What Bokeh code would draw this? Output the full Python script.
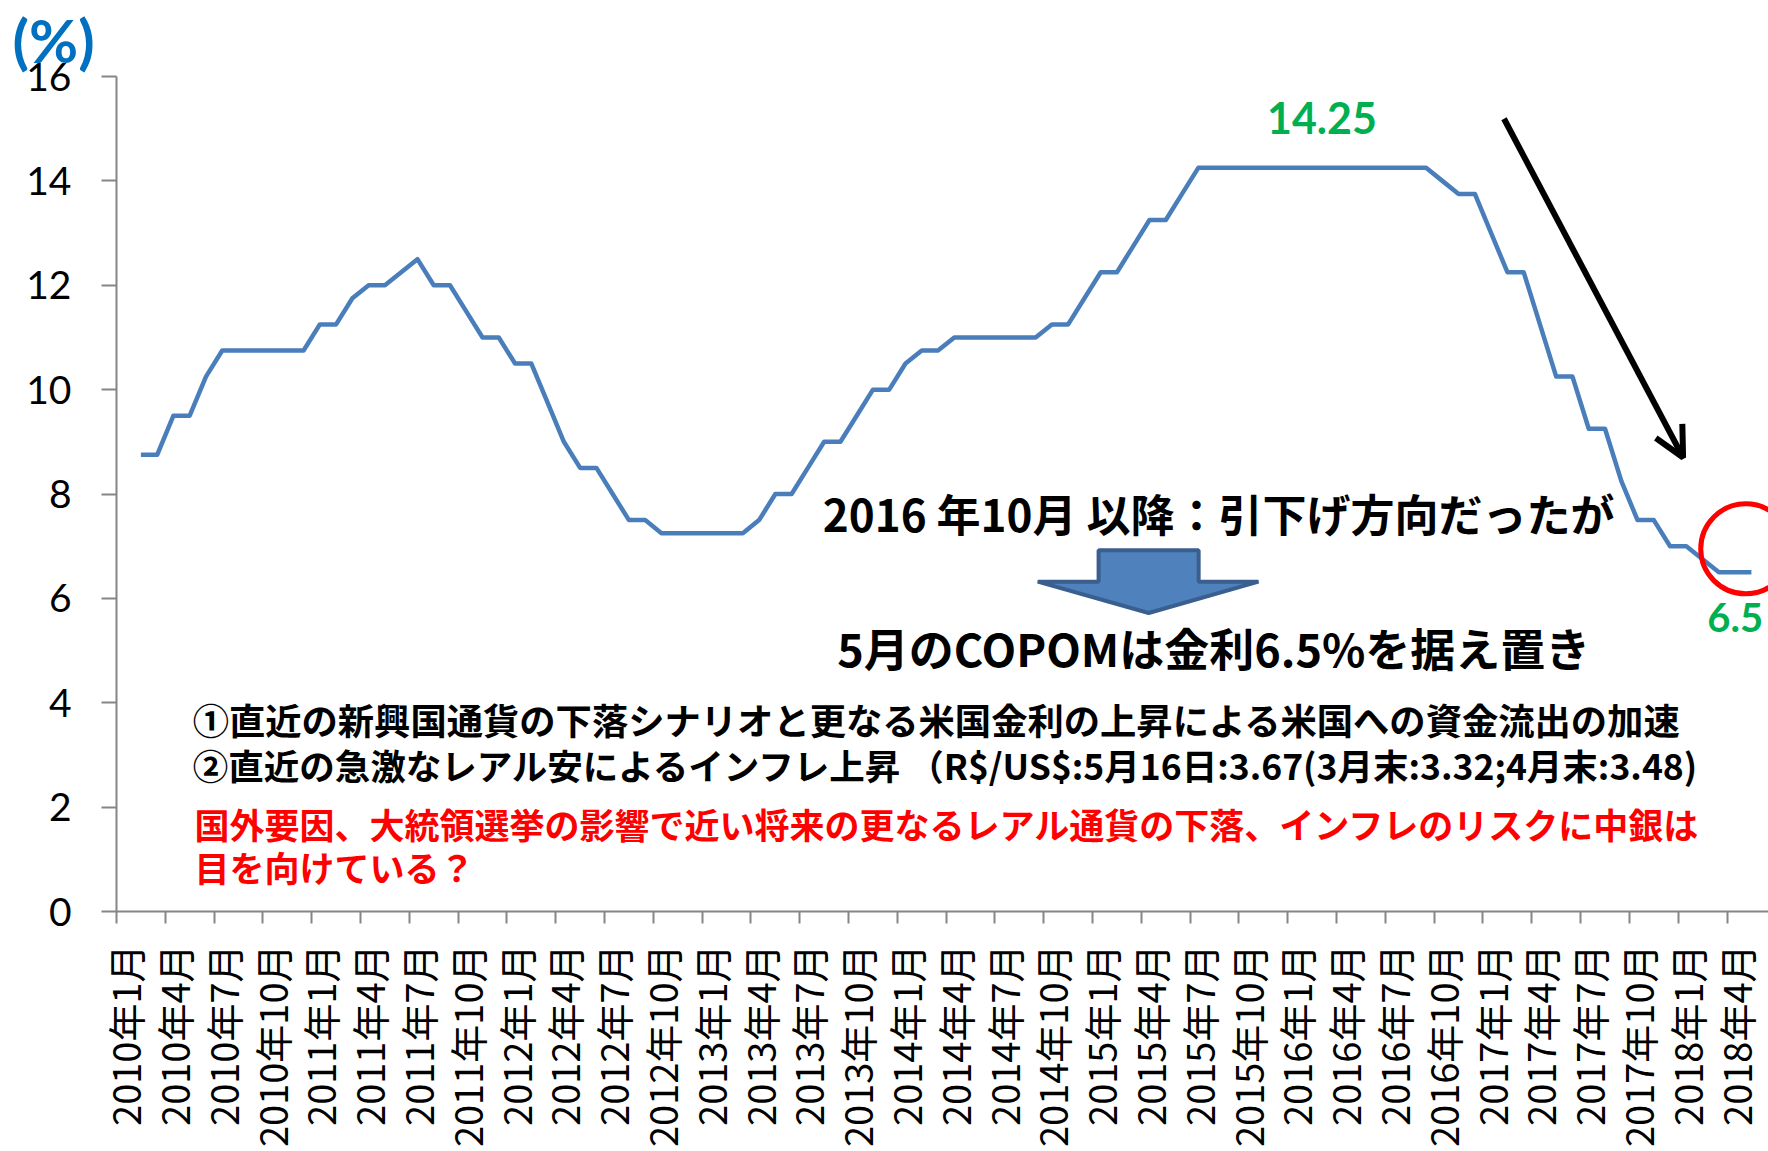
import math
from bokeh.plotting import figure
from bokeh.models import Range1d, FixedTicker, Label, Arrow, OpenHead
from bokeh.embed import file_html
from bokeh.resources import INLINE

nan = float("nan")

# ---- data -------------------------------------------------------------
years = list(range(2010, 2019))
months = list(range(1, 13))
categories = [f"{y}年{m}月" for y in years for m in months][:101]  # 2010年1月 .. 2018年5月

selic_2010 = [nan, 8.75, 8.75, 9.50, 9.50, 10.25, 10.75, 10.75, 10.75, 10.75, 10.75, 10.75]
selic_2011 = [11.25, 11.25, 11.75, 12.00, 12.00, 12.25, 12.50, 12.00, 12.00, 11.50, 11.00, 11.00]
selic_2012 = [10.50, 10.50, 9.75, 9.00, 8.50, 8.50, 8.00, 7.50, 7.50, 7.25, 7.25, 7.25]
selic_2013 = [7.25, 7.25, 7.25, 7.50, 8.00, 8.00, 8.50, 9.00, 9.00, 9.50, 10.00, 10.00]
selic_2014 = [10.50, 10.75, 10.75, 11.00, 11.00, 11.00, 11.00, 11.00, 11.00, 11.25, 11.25, 11.75]
selic_2015 = [12.25, 12.25, 12.75, 13.25, 13.25, 13.75, 14.25, 14.25, 14.25, 14.25, 14.25, 14.25]
selic_2016 = [14.25, 14.25, 14.25, 14.25, 14.25, 14.25, 14.25, 14.25, 14.25, 14.00, 13.75, 13.75]
selic_2017 = [13.00, 12.25, 12.25, 11.25, 10.25, 10.25, 9.25, 9.25, 8.25, 7.50, 7.50, 7.00]
selic_2018 = [7.00, 6.75, 6.50, 6.50, 6.50]

selic = (selic_2010 + selic_2011 + selic_2012 + selic_2013 + selic_2014
         + selic_2015 + selic_2016 + selic_2017 + selic_2018)

y_ticks = [0, 2, 4, 6, 8, 10, 12, 14, 16]
label_step = 3

peak_value = max(v for v in selic if v == v)
last_value = selic[-1]

# ---- figure -----------------------------------------------------------
x = list(range(len(categories)))
label_idx = list(range(0, len(categories), label_step))
boundary_ticks = [i - 0.5 for i in label_idx]

p = figure(width=1768, height=1151,
           x_range=Range1d(-0.5, 101.05), y_range=Range1d(0, 16),
           output_backend="svg", toolbar_location=None,
           min_border_left=116, min_border_right=0,
           min_border_top=76, min_border_bottom=240)
p.outline_line_color = None
p.grid.visible = False
p.background_fill_color = "white"
p.border_fill_color = "white"

# "(%)" unit label as a left-aligned title above the axis
p.title.text = "(%)"
p.title.text_font = "Lato"
p.title.text_font_size = "60px"
p.title.text_font_style = "bold"
p.title.text_color = "#0070C0"
p.title.align = "left"
p.title.offset = -104
p.title.standoff = 1

AX = "#868686"

# y axis
ya = p.yaxis[0]
ya.ticker = FixedTicker(ticks=y_ticks)
ya.axis_line_color = AX
ya.axis_line_width = 2
ya.major_tick_in = 0
ya.major_tick_out = 15
ya.major_tick_line_color = AX
ya.major_tick_line_width = 2
ya.minor_tick_line_color = None
ya.major_label_text_font = "Lato"
ya.major_label_text_font_size = "39px"
ya.major_label_text_color = "black"
ya.major_label_standoff = 30

# x axis
xa = p.xaxis[0]
xa.ticker = FixedTicker(ticks=label_idx, minor_ticks=boundary_ticks)
xa.major_label_overrides = {i: categories[i] for i in label_idx}
xa.major_label_orientation = math.pi / 2
xa.axis_line_color = AX
xa.axis_line_width = 2
xa.major_tick_line_color = None
xa.major_tick_in = 0
xa.major_tick_out = 0
xa.minor_tick_in = 0
xa.minor_tick_out = 12
xa.minor_tick_line_color = AX
xa.minor_tick_line_width = 2
xa.major_label_text_font = "Noto Sans CJK JP"
xa.major_label_text_font_size = "38px"
xa.major_label_text_color = "black"
xa.major_label_standoff = 21

# series
p.line(x, selic, line_color="#4A7EBB", line_width=4.5, line_join="round")

# ---- annotations ------------------------------------------------------
CJK = "Noto Sans CJK JP"

p.add_layout(Label(x=73.6, y=15.2, text=f"{peak_value:.2f}", text_font="Lato",
                   text_font_size="43px", text_font_style="bold",
                   text_color="#00B050", text_align="center",
                   text_baseline="alphabetic"))

p.add_layout(Label(x=99.0, y=5.63, text=f"{last_value:g}", text_font="Lato",
                   text_font_size="40px", text_font_style="bold",
                   text_color="#00B050", text_align="center",
                   text_baseline="alphabetic"))

# red circle around the latest value
p.circle(x=[99.65], y=[6.95], radius=45, radius_units="screen",
         fill_color=None, line_color="#FF0000", line_width=5)

# black downward arrow
p.add_layout(Arrow(end=OpenHead(size=30, line_width=6, line_color="black"),
                   x_start=84.79, y_start=15.19, x_end=95.8, y_end=8.70,
                   line_width=6, line_color="black"))

# blue block arrow
block_x = [59.87, 66.02, 66.02, 69.70, 62.95, 56.13, 59.87]
block_y = [6.92, 6.92, 6.32, 6.32, 5.72, 6.32, 6.32]
p.patch(block_x, block_y, fill_color="#4F81BD", line_color="#3A5F8F",
        line_width=4, line_join="bevel")

p.add_layout(Label(x=67.25, y=7.63, text="2016 年10月 以降：引下げ方向だったが",
                   text_font=CJK, text_font_size="44px", text_font_style="bold",
                   text_color="black", text_align="center", text_baseline="middle"))

p.add_layout(Label(x=66.95, y=5.06, text="5月のCOPOMは金利6.5%を据え置き",
                   text_font=CJK, text_font_size="45px", text_font_style="bold",
                   text_color="black", text_align="center", text_baseline="middle"))

p.add_layout(Label(x=4.18, y=3.68,
                   text="①直近の新興国通貨の下落シナリオと更なる米国金利の上昇による米国への資金流出の加速",
                   text_font=CJK, text_font_size="36.3px", text_font_style="bold",
                   text_color="black", text_align="left", text_baseline="middle"))

p.add_layout(Label(x=4.18, y=2.82,
                   text="②直近の急激なレアル安によるインフレ上昇 （R$/US$:5月16日:3.67(3月末:3.32;4月末:3.48)",
                   text_font=CJK, text_font_size="35.5px", text_font_style="bold",
                   text_color="black", text_align="left", text_baseline="middle"))

p.add_layout(Label(x=4.3, y=1.68,
                   text="国外要因、大統領選挙の影響で近い将来の更なるレアル通貨の下落、インフレのリスクに中銀は",
                   text_font=CJK, text_font_size="35px", text_font_style="bold",
                   text_color="#FF0000", text_align="left", text_baseline="middle"))

p.add_layout(Label(x=4.3, y=0.87, text="目を向けている？",
                   text_font=CJK, text_font_size="35px", text_font_style="bold",
                   text_color="#FF0000", text_align="left", text_baseline="middle"))

open("out.html", "w").write(file_html(p, INLINE))
